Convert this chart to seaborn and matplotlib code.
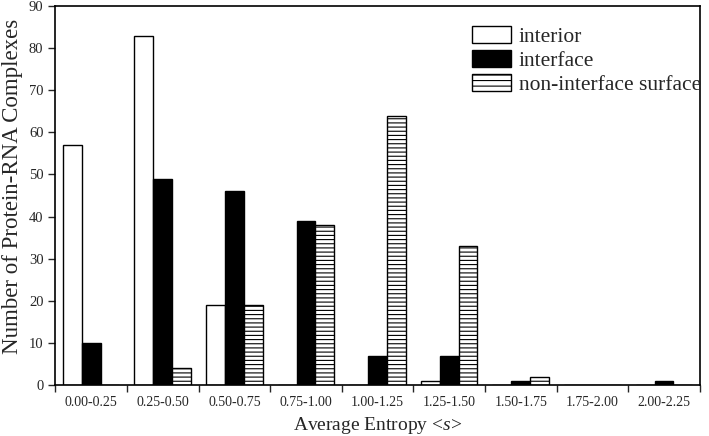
import pandas as pd
import seaborn as sns
import matplotlib.pyplot as plt

bins = ['0.00-0.25', '0.25-0.50', '0.50-0.75', '0.75-1.00', '1.00-1.25',
        '1.25-1.50', '1.50-1.75', '1.75-2.00', '2.00-2.25']
interior = [57, 83, 19, 0, 0, 1, 0, 0, 0]
interface = [10, 49, 46, 39, 7, 7, 1, 0, 1]
surface = [0, 4, 19, 38, 64, 33, 2, 0, 0]
groups = ['interior', 'interface', 'non-interface surface']

df = pd.DataFrame({'bin': bins * 3,
                   'count': interior + interface + surface,
                   'group': [g for g in groups for _ in bins]})

sns.set_theme(style='ticks')
plt.rcParams['font.family'] = ['Liberation Serif', 'DejaVu Serif']
plt.rcParams['mathtext.fontset'] = 'custom'
plt.rcParams['mathtext.it'] = 'Liberation Serif:italic'
plt.rcParams['mathtext.rm'] = 'Liberation Serif'
plt.rcParams['hatch.color'] = '#777777'
plt.rcParams['hatch.linewidth'] = 0.8

fig, ax = plt.subplots(figsize=(7.09, 4.36), dpi=100)
fig.subplots_adjust(left=0.078, right=0.987, top=0.986, bottom=0.117)

sns.barplot(data=df, x='bin', y='count', hue='group', ax=ax,
            palette=['white', 'black', 'white'], width=0.79,
            edgecolor='black', linewidth=1.0, saturation=1)

# hatch the third series
for bar in ax.containers[2]:
    bar.set_hatch('----')
    bar.set_edgecolor('black')

ax.set_ylim(0, 90)
ax.set_xlim(-0.5, len(bins) - 0.5)
ax.set_yticks(range(0, 91, 10))
ax.set_xticks([i + 0.5 for i in range(-1, len(bins))], minor=True)
ax.tick_params(axis='x', which='major', length=0, labelsize=10, pad=8)
ax.tick_params(axis='x', which='minor', length=5, direction='out', width=1)
ax.tick_params(axis='y', labelsize=10.5, length=5, direction='out', width=1)
for s in ax.spines.values():
    s.set_linewidth(1.2)
    s.set_color('black')

ax.set_xlabel('Average Entropy <$\\it{s}$>', fontsize=14)
ax.set_ylabel('Number of Protein-RNA Complexes', fontsize=16.5)
ax.yaxis.set_label_coords(-0.05, 0.525)

leg = ax.legend(loc='upper right', bbox_to_anchor=(1.032, 0.998), frameon=False,
                fontsize=15.5, handlelength=1.8, handleheight=0.8,
                handletextpad=0.35, labelspacing=0.15)
for h in leg.legend_handles:
    h.set_edgecolor('black')
leg.legend_handles[2].set_hatch('---')

fig.savefig('out.png', dpi=100)
